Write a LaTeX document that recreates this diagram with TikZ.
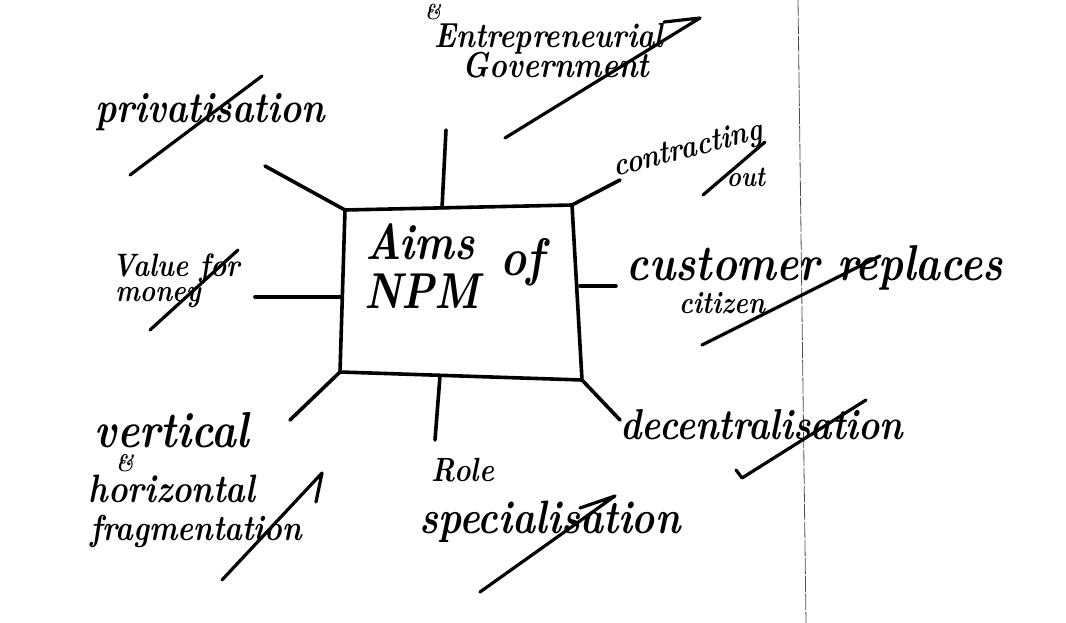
\documentclass[tikz,border=0pt]{standalone}
\newcommand\hs[1]{\fontsize{#1}{#1}\selectfont\bfseries\itshape}
\begin{document}
\begin{tikzpicture}[x=1pt,y=-1pt,line cap=round,line join=round]
\useasboundingbox (0,0) rectangle (1066,623);
\tikzset{
  ink/.style={line width=3.6pt,black},
  strike/.style={line width=3.2pt,black},
  hw/.style={inner sep=0pt,anchor=center,yscale=1.2,transform shape},
  crease/.style={line width=0.8pt,black!70,dash pattern=on 16pt off 2pt},
}
% page crease
\coordinate (c1) at (798,0);
\coordinate (c2) at (806,623);
\draw[crease] (c1) -- (c2);
% central box
\coordinate (tl) at (345,210);
\coordinate (tr) at (572,205);
\coordinate (br) at (582,380);
\coordinate (bl) at (340,372);
\draw[ink] (tl) -- (tr) -- (br) -- (bl) -- cycle;
\node[hw,font=\hs{42}] (aims) at (420,242) {Aims};
\node[hw,font=\hs{44}] (of) at (522,262) {of};
\node[hw,font=\hs{42}] (npm) at (422,291) {NPM};
% texts
\node[hw,font=\hs{18}] (amp1) at (433,12) {\&};
\node[hw,font=\hs{29}] (ent) at (549,39) {Entrepreneurial};
\node[hw,font=\hs{30}] (gov) at (556,65) {Government};
\node[hw,font=\hs{36}] (priv) at (210,112) {privatisation};
\node[hw,font=\hs{27},rotate=12] (contr) at (688,150) {contracting};
\node[hw,font=\hs{24}] (out) at (746,177) {out};
\node[hw,font=\hs{27}] (value) at (176,268) {Value for};
\node[hw,font=\hs{26}] (money) at (158,298) {money};
\node[hw,font=\hs{42}] (cust) at (815,268) {customer replaces};
\node[hw,font=\hs{26}] (cit) at (722,303) {citizen};
\node[hw,font=\hs{42}] (vert) at (172,430) {vertical};
\node[hw,font=\hs{20}] (amp2) at (125,463) {\&};
\node[hw,font=\hs{33}] (hor) at (172,489) {horizontal};
\node[hw,font=\hs{30}] (frag) at (196,531) {fragmentation};
\node[hw,font=\hs{28}] (role) at (463,470) {Role};
\node[hw,font=\hs{39}] (spec) at (550,522) {specialisation};
\node[hw,font=\hs{36}] (dec) at (762,425) {decentralisation};
% spoke ends
\coordinate (tm) at (442,208);
\coordinate (tmo) at (446,130);
\coordinate (pe) at (265,166);
\coordinate (ce) at (620,180);
\coordinate (lm) at (341,297);
\coordinate (le) at (255,297);
\coordinate (rm) at (580,286);
\coordinate (re) at (616,286);
\coordinate (ble) at (290,420);
\coordinate (bm) at (440,376);
\coordinate (bme) at (435,440);
\coordinate (bre) at (620,420);
\draw[ink] (tm) -- (tmo);
\draw[ink] (tl) -- (pe);
\draw[ink] (tr) -- (ce);
\draw[ink] (lm) -- (le);
\draw[ink] (rm) -- (re);
\draw[ink] (bl) -- (ble);
\draw[ink] (bm) -- (bme);
\draw[ink] (br) -- (bre);
% strike-through ticks
\coordinate (s1a) at (505,138); \coordinate (s1b) at (700,18); \coordinate (s1c) at (664,22);
\draw[strike] (s1a) -- (s1b) -- (s1c);
\coordinate (s2a) at (130,175); \coordinate (s2b) at (262,76);
\draw[strike] (s2a) -- (s2b);
\coordinate (s3a) at (703,195); \coordinate (s3b) at (765,142);
\draw[strike] (s3a) -- (s3b);
\coordinate (s4a) at (150,330); \coordinate (s4b) at (238,250);
\draw[strike] (s4a) -- (s4b);
\coordinate (s5a) at (702,345); \coordinate (s5b) at (880,256);
\draw[strike] (s5a) -- (s5b);
\coordinate (s6a) at (222,580); \coordinate (s6b) at (322,473); \coordinate (s6c) at (316,502);
\draw[strike] (s6a) -- (s6b) -- (s6c);
\coordinate (s7a) at (480,592); \coordinate (s7b) at (615,496); \coordinate (s7c) at (580,508);
\draw[strike] (s7a) -- (s7b) -- (s7c);
\coordinate (s8a) at (742,478); \coordinate (s8b) at (866,400); \coordinate (s8c) at (736,470);
\draw[strike] (s8c) -- (s8a) -- (s8b);
\end{tikzpicture}
\end{document}
